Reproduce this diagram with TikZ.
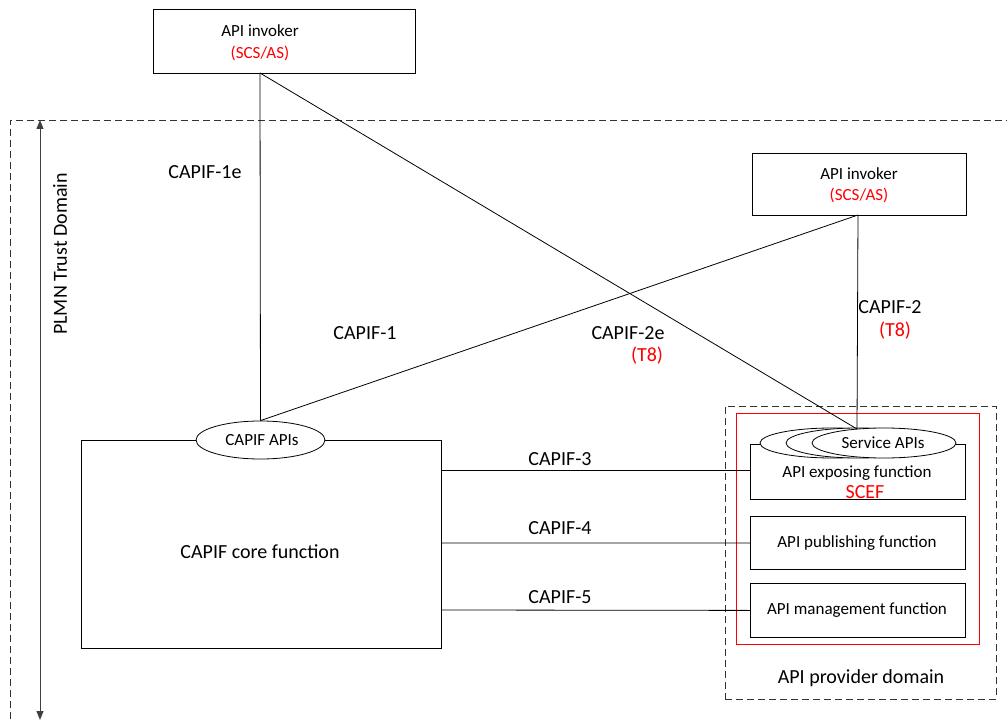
\documentclass[tikz,border=0pt]{standalone}
\usepackage{fontspec}
\setmainfont{Carlito}
\usetikzlibrary{shapes.geometric,arrows.meta}
\begin{document}
\begin{tikzpicture}[x=1pt,y=-1pt,
  line width=0.8pt,
  box/.style={draw,fill=white,inner sep=0pt,anchor=north west},
  lbl/.style={font=\fontsize{20}{24}\selectfont},
  btxt/.style={font=\fontsize{17}{20}\selectfont},
  red/.style={text=red},
  dashedbox/.style={draw,dash pattern=on 7pt off 4pt,line width=0.8pt,color=black!80},
  ell/.style={draw,fill=white,ellipse,inner sep=0pt}]
\useasboundingbox (0,0) rectangle (1007,722);
% PLMN trust domain
\draw[dashedbox] (10,730) -- (10,120) -- (1010,120);
\coordinate (atop) at (40,120);
\coordinate (abot) at (40,720);
\draw[black!75,line width=1pt,{Triangle[length=9pt,width=7pt]}-{Triangle[length=9pt,width=7pt]}] (atop) -- (abot);
\node[lbl,rotate=90] (plmn) at (60,254) {PLMN Trust Domain};
% invokers
\node[box,minimum width=262pt,minimum height=64pt] (inv1) at (153,9) {};
\node[btxt] (inv1a) at (260,31) {API invoker};
\node[btxt,red] (inv1b) at (260,53) {(SCS/AS)};
\node[box,minimum width=214pt,minimum height=62pt] (inv2) at (752,153) {};
\node[btxt] (inv2a) at (859,174) {API invoker};
\node[btxt,red] (inv2b) at (859,195) {(SCS/AS)};
% provider domain
\node[draw,dash pattern=on 7pt off 4pt,color=black!80,inner sep=0pt,anchor=north west,minimum width=271pt,minimum height=293pt] (prov) at (725,406) {};
\node[lbl] (provl) at (861,678) {API provider domain};
\node[draw=red,inner sep=0pt,anchor=north west,minimum width=243pt,minimum height=231pt] (scefbox) at (736,413) {};
% CAPIF core
\node[box,minimum width=360pt,minimum height=208pt] (core) at (81,440) {};
\node[lbl] (corel) at (260,552) {CAPIF core function};
\node[ell,minimum width=129pt,minimum height=38pt] (capis) at (260.5,440) {};
\node[btxt] (capisl) at (262,440) {CAPIF APIs};
% exposing function
\node[box,minimum width=215pt,minimum height=55pt] (exp) at (750,444) {};
\node[btxt] (expl) at (857,473) {API exposing function};
\node[lbl,red] (scef) at (865,492) {SCEF};
\node[ell,minimum width=144pt,minimum height=30pt] (s1) at (832,443) {};
\node[ell,minimum width=144pt,minimum height=30pt] (s2) at (858,443) {};
\node[ell,minimum width=144pt,minimum height=30pt] (s3) at (884,443) {};
\node[btxt] (s3l) at (883,443) {Service APIs};
\node[box,minimum width=215pt,minimum height=53pt] (pub) at (750,516) {};
\node[btxt] (publ) at (857,543) {API publishing function};
\node[box,minimum width=215pt,minimum height=54pt] (mgmt) at (750,583) {};
\node[btxt] (mgmtl) at (857,610) {API management function};
% connectors
\coordinate (i1b) at (260,73);
\coordinate (i2b) at (858,215);
\coordinate (sapi) at (857,429);
\draw (i1b) -- (capis.north);
\draw (i1b) -- (sapi);
\draw (i2b) -- (capis.north);
\draw (i2b) -- (sapi);
\draw (core.east |- 0,470) -- (exp.west |- 0,470);
\draw (core.east |- 0,543) -- (pub.west);
\draw (core.east |- 0,610) -- (mgmt.west);
% labels
\node[lbl] (c1e) at (205,172) {CAPIF-1e};
\node[lbl] (c1) at (365,333) {CAPIF-1};
\node[lbl] (c2e) at (628,333) {CAPIF-2e};
\node[lbl,red] (c2et) at (647,356) {(T8)};
\node[lbl] (c2) at (890,307) {CAPIF-2};
\node[lbl,red] (c2t) at (895,331) {(T8)};
\node[lbl] (c3) at (560,459) {CAPIF-3};
\node[lbl] (c4) at (560,528) {CAPIF-4};
\node[lbl] (c5) at (560,597) {CAPIF-5};
\end{tikzpicture}
\end{document}
